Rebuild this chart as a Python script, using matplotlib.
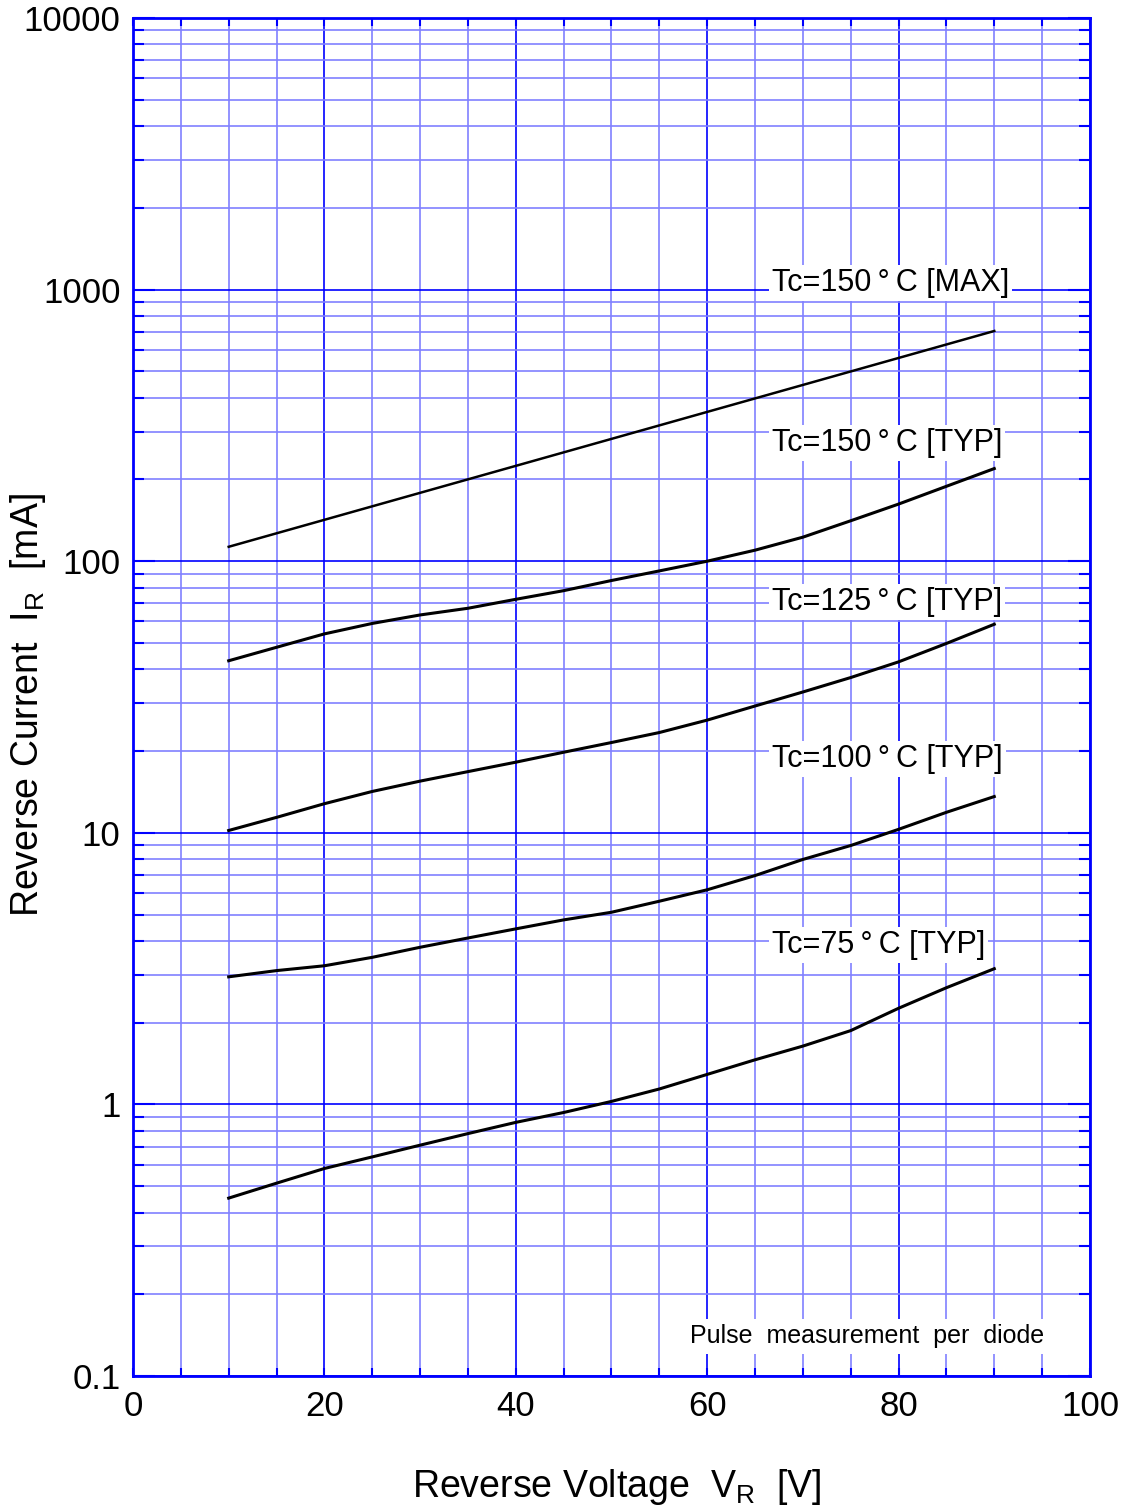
import numpy as np
import matplotlib.pyplot as plt
from matplotlib.ticker import FixedLocator, NullFormatter

plt.rcParams['font.family'] = ['Liberation Sans', 'DejaVu Sans']
plt.rcParams['mathtext.fontset'] = 'custom'
plt.rcParams['mathtext.rm'] = 'Liberation Sans'

vr = [10, 15, 20, 25, 30, 35, 40, 45, 50, 55, 60, 65, 70, 75, 80, 85, 90]
vr_max = [10, 90]
ir_150_max = [113, 704]
ir_150_typ = [43.0, 48.2, 54.0, 59.0, 63.4, 67.1, 72.4, 77.9, 84.9, 92.1,
              100, 109.8, 122.6, 140.9, 162.3, 188.7, 219.3]
ir_125_typ = [10.2, 11.4, 12.8, 14.2, 15.5, 16.8, 18.2, 19.8, 21.5, 23.4,
              26.0, 29.3, 33.0, 37.3, 42.6, 49.8, 58.6]
ir_100_typ = [2.95, 3.11, 3.24, 3.48, 3.79, 4.10, 4.43, 4.78, 5.10, 5.60,
              6.17, 6.96, 7.98, 8.98, 10.3, 11.9, 13.6]
ir_75_typ = [0.452, 0.513, 0.581, 0.641, 0.708, 0.781, 0.859, 0.934, 1.026, 1.14,
             1.29, 1.46, 1.64, 1.87, 2.26, 2.69, 3.16]

labels = ['Tc=150\u2009°\u2009C [MAX]', 'Tc=150\u2009°\u2009C [TYP]',
          'Tc=125\u2009°\u2009C [TYP]', 'Tc=100\u2009°\u2009C [TYP]',
          'Tc=75\u2009°\u2009C [TYP]']
label_y = [1057, 272, 70.8, 18.7, 3.86]

blue = '#0000ff'
light = '#8080ff'

fig = plt.figure(figsize=(11.26, 15.10), dpi=100)
ax = fig.add_axes([0.1181, 0.0887, 0.8499, 0.8994])
ax.set_yscale('log')
ax.set_xlim(0, 100)
ax.set_ylim(0.1, 10000)

ax.xaxis.set_major_locator(FixedLocator([0, 20, 40, 60, 80, 100]))
ax.xaxis.set_minor_locator(FixedLocator(np.arange(0, 101, 5)))
ax.yaxis.set_major_locator(FixedLocator([0.1, 1, 10, 100, 1000, 10000]))
minors = [m * 10.0 ** e for e in range(-1, 4) for m in range(2, 10)]
ax.yaxis.set_minor_locator(FixedLocator(minors))
ax.yaxis.set_minor_formatter(NullFormatter())
ax.set_yticklabels(['0.1', '1', '10', '100', '1000', '10000'])

ax.grid(True, which='minor', color=light, lw=1.2)
ax.grid(True, which='major', color=blue, lw=1.2)
ax.set_axisbelow(True)

for s in ax.spines.values():
    s.set_color(blue)
    s.set_linewidth(2)

ax.tick_params(which='both', direction='in', top=True, right=True, color=blue,
               labelsize=25, labelcolor='black')
ax.tick_params(which='major', length=16, width=1.5)
ax.tick_params(which='minor', length=8, width=1.5)
ax.tick_params(axis='y', which='major', pad=9)
ax.tick_params(axis='x', which='major', length=6, pad=10)
ax.tick_params(axis='x', which='minor', length=6)

ax.plot(vr_max, ir_150_max, color='black', lw=1.8, zorder=3)
for ir in [ir_150_typ, ir_125_typ, ir_100_typ, ir_75_typ]:
    ax.plot(vr, ir, color='black', lw=2.2, zorder=3)

for lab, y in zip(labels, label_y):
    ax.text(66.8, y, lab, fontsize=22, va='center', ha='left', zorder=4,
            bbox=dict(facecolor='white', edgecolor='none', pad=2))

ax.text(58.2, 0.14, 'Pulse  measurement  per  diode', fontsize=18, va='center',
        ha='left', zorder=4, bbox=dict(facecolor='white', edgecolor='none', pad=4))

fig.text(0.548, 0.0152, r'Reverse Voltage  $\mathregular{V_R}$  [V]', fontsize=27,
         ha='center', va='center')
fig.text(0.025, 0.533, r'Reverse Current  $\mathregular{I_R}$  [mA]', fontsize=27,
         ha='center', va='center', rotation=90)

fig.savefig('out.png', dpi=100)
